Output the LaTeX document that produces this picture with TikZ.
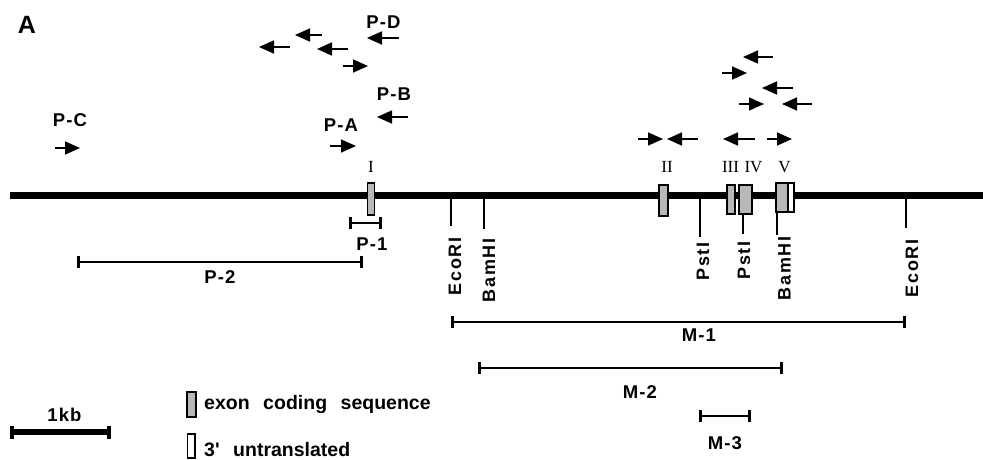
\documentclass[tikz,border=0pt]{standalone}
\usepackage{fontspec}
\setmainfont{Liberation Sans}
\newfontfamily\romanfont{Liberation Serif}
\newfontfamily\spacedfont[LetterSpace=6]{Liberation Sans}
\newfontfamily\sitefont[LetterSpace=10]{Liberation Sans}
\newfontfamily\legendfont[WordSpace=2.5]{Liberation Sans}
\usetikzlibrary{arrows.meta}

\begin{document}
\begin{tikzpicture}[x=1pt,y=-1pt,
  primer/.style={line width=1.7pt,-{Triangle[length=15pt,width=13pt]}},
  exonbox/.style={draw,line width=1.3pt,fill=black!28},
  utrbox/.style={draw,line width=1.3pt,fill=white},
  site/.style={line width=1.1pt},
  sitelabel/.style={rotate=90,anchor=east,inner sep=0pt,
    font=\sitefont\bfseries\fontsize{18}{18}\selectfont},
  fraglabel/.style={inner sep=0pt,
    font=\spacedfont\bfseries\fontsize{18.5}{18.5}\selectfont},
  fragment/.style={line width=2.6pt,
    {Bar[width=12pt,line width=2.8pt]}-{Bar[width=12pt,line width=2.8pt]}},
  exonlabel/.style={inner sep=0pt,font=\romanfont\fontsize{17}{17}\selectfont},
  legendtext/.style={inner sep=0pt,anchor=base west,
    font=\legendfont\bfseries\fontsize{19.5}{19.5}\selectfont},
]
\useasboundingbox (0,0) rectangle (983,460);

% panel letter
\node[inner sep=0pt,font=\bfseries\fontsize{25}{25}\selectfont] (panel) at (27,24.5) {A};

% restriction sites (drawn under the gene line and exons)
\draw[site] (451,195) -- (451,226);
\draw[site] (484,195) -- (484,229);
\draw[site] (700,195) -- (700,237);
\draw[site] (743,195) -- (743,234);
\draw[site] (777,195) -- (777,235);
\draw[site] (906,195) -- (906,228);
\node[sitelabel] (eco1) at (455,237) {EcoRI};
\node[sitelabel] (bam1) at (489,238) {BamHI};
\node[sitelabel] (pst1) at (703,242) {PstI};
\node[sitelabel] (pst2) at (744,241) {PstI};
\node[sitelabel] (bam2) at (784.5,236) {BamHI};
\node[sitelabel] (eco2) at (912,239) {EcoRI};

% genomic line
\draw[line width=6.5pt] (10,195.5) -- (983,195.5);

% exons
\draw[exonbox] (367.5,183) rectangle (374.5,215);
\draw[exonbox] (659,185) rectangle (668,216);
\draw[exonbox] (727,185) rectangle (735,214);
\draw[exonbox] (739,185) rectangle (752,214);
\draw[exonbox] (776,183) rectangle (788,212);
\draw[utrbox]  (788,183) rectangle (794,212);

\node[exonlabel] (ex1) at (371,167) {I};
\node[exonlabel] (ex2) at (667,167) {II};
\node[exonlabel] (ex3) at (730.5,167) {III};
\node[exonlabel] (ex4) at (753.5,167) {IV};
\node[exonlabel] (ex5) at (784.5,167) {V};

% primers
\draw[primer] (290,47) -- (259,47);
\draw[primer] (322,35) -- (295,35);
\draw[primer] (348,49) -- (317,49);
\draw[primer] (343,66) -- (368,66);
\draw[primer] (399,38) -- (367,38);
\draw[primer] (408,117) -- (377,117);
\draw[primer] (330,146) -- (356,146);
\draw[primer] (55,148) -- (80,148);
\draw[primer] (773,57) -- (743,57);
\draw[primer] (722,73) -- (747,73);
\draw[primer] (793,88) -- (762,88);
\draw[primer] (739,104) -- (764,104);
\draw[primer] (812,104) -- (782,104);
\draw[primer] (638,139) -- (663,139);
\draw[primer] (698,139) -- (667,139);
\draw[primer] (755,139) -- (723,139);
\draw[primer] (767,139) -- (792,139);

\node[fraglabel] (pD) at (383.5,22) {P-D};
\node[fraglabel] (pB) at (394,94) {P-B};
\node[fraglabel] (pA) at (341,125.5) {P-A};
\node[fraglabel] (pC) at (70,120) {P-C};

% probes and clones
\draw[fragment] (349,223) -- (382,223);
\node[fraglabel] (p1) at (372,244) {P-1};
\draw[fragment] (77,262) -- (363,262);
\node[fraglabel] (p2) at (220,277.5) {P-2};
\draw[fragment] (451,322) -- (906,322);
\node[fraglabel] (m1) at (699,335.5) {M-1};
\draw[fragment] (478,368) -- (783,368);
\node[fraglabel] (m2) at (640,392) {M-2};
\draw[fragment] (699,416) -- (751,416);
\node[fraglabel] (m3) at (725,443) {M-3};

% scale bar
\draw[line width=5.5pt,{Bar[width=13pt,line width=4pt]}-{Bar[width=13pt,line width=4pt]}] (10,432) -- (111,432);
\node[fraglabel] (kb) at (64.5,414.5) {1kb};

% legend
\draw[exonbox] (187,392) rectangle (196,417);
\node[legendtext] (lg1) at (204,409) {exon coding sequence};
\draw[utrbox] (187.5,434) rectangle (195,458);
\node[legendtext] (lg2) at (204,456) {3\textquotesingle{} untranslated};
\end{tikzpicture}
\end{document}
